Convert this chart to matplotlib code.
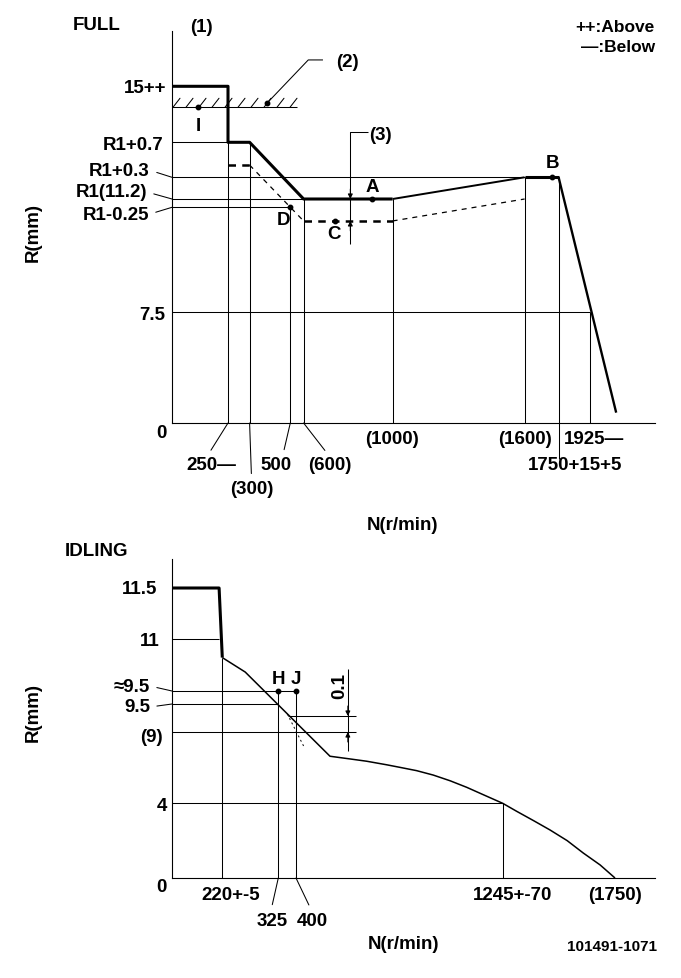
import matplotlib
matplotlib.use("Agg")
import matplotlib.pyplot as plt
import numpy as np

plt.rcParams['font.family'] = ['Liberation Sans Narrow', 'Liberation Sans', 'DejaVu Sans']
plt.rcParams['font.weight'] = 'bold'

# ---------------- FULL (top) data ----------------
full_n = [0, 250, 250, 300, 600, 1000]          # rack, thick part
full_r = [15, 15, 11.9, 11.9, 11.2, 11.2]
rise_n = [1000, 1600]
rise_r = [11.2, 11.5]
b_n = [1600, 1750]
b_r = [11.5, 11.5]
droop_n = [1750, 2035]
droop_r = [11.5, 0.7]
low_n = [250, 300, 600, 1000, 1600]            # lower limit (dashed)
low_r = [11.64, 11.64, 10.5, 10.5, 11.2]
hatch_r = 13.84
full_points = {'I': (117, 13.84), 'D': (500, 10.95), 'A': (907, 11.2),
               'C': (741, 10.5), 'B': (1721, 11.5)}

# ---------------- IDLING (bottom) data ----------------
idl_thick_n = [0, 206, 220]
idl_thick_r = [11.5, 11.5, 10.5]
idl_n = [220, 263, 539, 621, 689, 771, 825, 893, 961, 1030, 1098, 1166,
         1245, 1308, 1384, 1458, 1535, 1607, 1683, 1750]
idl_r = [10.5, 10.11, 7.3, 7.11, 6.95, 6.7, 6.52, 6.29, 5.98, 5.58, 5.12, 4.6,
         4.0, 3.57, 3.07, 2.57, 2.0, 1.34, 0.7, 0]
idl_low_n = [363, 433]
idl_low_r = [9.17, 7.95]
idl_points = {'H': (325, 9.6), 'J': (400, 9.6)}


def pw(vals, pos):
    vals = np.asarray(vals, float)
    pos = np.asarray(pos, float)
    return (lambda v: np.interp(v, vals, pos), lambda p: np.interp(p, pos, vals))


W, H = 681, 979
fig = plt.figure(figsize=(W / 100, H / 100), dpi=100)


def box(l, r, b, t):
    return [l / W, 1 - b / H, (r - l) / W, (b - t) / H]


THIN = 0.75
THICK = 2.2
FS = 13.5

ax1 = fig.add_axes(box(172, 655, 424, 32))
ax2 = fig.add_axes(box(172, 655, 879, 560))

fx1 = pw([-500, 0, 250, 300, 500, 600, 1000, 1600, 1750, 1925, 2200],
         [-110, 0, 56, 77.6, 118.3, 131.6, 220.6, 352.6, 386.6, 418.3, 483])
fy1 = pw([-5, 0, 7.5, 10.95, 11.2, 11.5, 11.9, 15, 18],
         [-74, 0, 111, 215.7, 224, 245.7, 280.7, 336.7, 392])
fx2 = pw([-500, 0, 220, 325, 400, 1245, 1750, 1930],
         [-115, 0, 50.3, 106.3, 124, 330.7, 443, 483])
fy2 = pw([-5, 0, 4, 9, 9.1, 9.5, 9.6, 11, 11.5, 12.5],
         [-92, 0, 74.7, 146, 162, 174, 187, 239, 290, 319])

for ax, fx, fy, xl, yl in [(ax1, fx1, fy1, 2200, 18), (ax2, fx2, fy2, 1930, 12.5)]:
    ax.set_xscale('function', functions=fx)
    ax.set_yscale('function', functions=fy)
    ax.set_xlim(0, xl)
    ax.set_ylim(0, yl)
    ax.set_xticks([])
    ax.set_yticks([])
    ax.minorticks_off()
    ax.patch.set_alpha(0)
    for s in ['top', 'right']:
        ax.spines[s].set_visible(False)
    for s in ['left', 'bottom']:
        ax.spines[s].set_linewidth(0.8)


def line(ax, xs, ys, lw=THIN, ls='-', **kw):
    ax.plot(xs, ys, color='k', lw=lw, ls=ls, clip_on=False,
            solid_capstyle='butt', **kw)


def lab(ax, s, x, y, dx, dy, ha='center', lead=None, size=FS, **kw):
    ap = None
    if lead is not None:
        ap = dict(arrowstyle='-', lw=THIN, color='k', relpos=lead,
                  shrinkA=3, shrinkB=0)
    ax.annotate(s, xy=(x, y), xytext=(dx, dy), textcoords='offset pixels',
                ha=ha, va='center', fontsize=size, fontweight='bold',
                arrowprops=ap, annotation_clip=False, **kw)


def arrow(ax, x, y, dy):
    ax.annotate('', xy=(x, y), xytext=(0, dy), textcoords='offset pixels',
                arrowprops=dict(arrowstyle='-|>', lw=THIN, color='k',
                                mutation_scale=7, shrinkA=0, shrinkB=0),
                annotation_clip=False)


# ================= FULL =================
# thin reference lines
line(ax1, [0, 550], [hatch_r, hatch_r])
line(ax1, [0, 250], [11.9, 11.9])
line(ax1, [0, 1600], [11.5, 11.5])
line(ax1, [0, 600], [11.2, 11.2])
line(ax1, [0, 500], [10.95, 10.95])
line(ax1, [0, 1925], [7.5, 7.5])
for n, top in [(250, 11.9), (300, 11.9), (500, 10.95), (600, 11.2),
               (1000, 11.2), (1600, 11.5), (1925, 7.5)]:
    line(ax1, [n, n], [0, top])
line(ax1, [1750, 1750], [-2.4, 11.5])

# hatch marks
hx = fx1[1](np.linspace(1, 118, 10))
for x in hx:
    ax1.annotate('', xy=(x, hatch_r), xytext=(7, 9), textcoords='offset pixels',
                 arrowprops=dict(arrowstyle='-', lw=THIN, color='k',
                                 shrinkA=0, shrinkB=0))

# characteristic
line(ax1, full_n, full_r, lw=THICK)
line(ax1, rise_n, rise_r, lw=1.4)
line(ax1, b_n, b_r, lw=THICK)
line(ax1, droop_n, droop_r, lw=1.7)
line(ax1, low_n[:2], low_r[:2], lw=1.8, ls=(0, (3, 2.5)))
line(ax1, low_n[1:3], low_r[1:3], lw=0.9, ls=(0, (4, 4)))
line(ax1, low_n[2:4], low_r[2:4], lw=1.8, ls=(0, (3, 2.5)))
line(ax1, low_n[3:5], low_r[3:5], lw=0.9, ls=(0, (4, 4)))

for k, (n, r) in full_points.items():
    ax1.plot(n, r, 'o', color='k', ms=3.2, clip_on=False)
ax1.plot(385, 14.06, 'o', color='k', ms=3.2)
lab(ax1, 'I', *full_points['I'], 0, -18)
lab(ax1, 'D', *full_points['D'], -7, -12)
lab(ax1, 'A', *full_points['A'], 0, 12)
lab(ax1, 'C', *full_points['C'], -1, -13)
lab(ax1, 'B', *full_points['B'], 0, 15)

# (2) leader
line(ax1, [385, 621, 687], [14.06, 16.43, 16.43])
lab(ax1, '(2)', 687, 16.43, 13, -2, ha='left')
# (3) marker
line(ax1, [889, 810, 810], [12.47, 12.47, 9.74])
lab(ax1, '(3)', 889, 12.47, 1, -2, ha='left')
arrow(ax1, 810, 11.2, 10)
arrow(ax1, 810, 10.5, -10)

# y labels
lab(ax1, '15++', 0, 15, -6, -1, ha='right')
lab(ax1, 'R1+0.7', 0, 11.9, -8, -2, ha='right')
lab(ax1, 'R1+0.3', 0, 11.5, -22, 7, ha='right', lead=(1, 0.5))
lab(ax1, 'R1(11.2)', 0, 11.2, -25, 7, ha='right', lead=(1, 0.5))
lab(ax1, 'R1-0.25', 0, 10.95, -23, -7, ha='right', lead=(1, 0.5))
lab(ax1, '7.5', 0, 7.5, -7, -2, ha='right')
lab(ax1, '0', 0, 0, -11, -10)

# x labels
lab(ax1, '250\u2014', 250, 0, -17, -42, lead=(0.42, 1))
lab(ax1, '(300)', 300, 0, 2, -66, lead=(0.5, 1))
lab(ax1, '500', 500, 0, -14, -42, lead=(0.7, 1))
lab(ax1, '(600)', 600, 0, 26, -42, lead=(0.5, 1))
lab(ax1, '(1000)', 1000, 0, -1, -16)
lab(ax1, '(1600)', 1600, 0, 0, -16)
lab(ax1, '1925\u2014', 1925, 0, 4, -16)
lab(ax1, '1750+15+5', 1750, 0, 16, -42)

# ================= IDLING =================
line(ax2, [0, 206], [11, 11])
line(ax2, [0, 400], [9.6, 9.6])
line(ax2, [0, 325], [9.5, 9.5])
line(ax2, [0, 645], [9, 9])
line(ax2, [366, 645], [9.1, 9.1])
line(ax2, [0, 1245], [4, 4])
for n, top in [(220, 10.5), (325, 9.6), (400, 9.6), (1245, 4)]:
    line(ax2, [n, n], [0, top])

line(ax2, idl_thick_n, idl_thick_r, lw=THICK)
line(ax2, idl_n, idl_r, lw=1.1)
line(ax2, idl_low_n, idl_low_r, lw=0.7, ls=(0, (2, 3)))

for k, (n, r) in idl_points.items():
    ax2.plot(n, r, 'o', color='k', ms=3.2, clip_on=False)
    lab(ax2, k, n, r, 0, 12)

line(ax2, [612, 612], [10.19, 7.67])
arrow(ax2, 612, 9.1, 10)
arrow(ax2, 612, 9, -10)
lab(ax2, '0.1', 612, 9.1, -8, 31, rotation=90)

lab(ax2, '11.5', 0, 11.5, -15, -1, ha='right')
lab(ax2, '11', 0, 11, -12, -2, ha='right')
lab(ax2, '\u22489.5', 0, 9.6, -22, 5, ha='right', lead=(1, 0.5))
lab(ax2, '9.5', 0, 9.5, -22, -3, ha='right', lead=(1, 0.5))
lab(ax2, '(9)', 0, 9, -9, -4, ha='right')
lab(ax2, '4', 0, 4, -10, -2)
lab(ax2, '0', 0, 0, -11, -9)

lab(ax2, '220+-5', 220, 0, 8, -16)
lab(ax2, '325', 325, 0, -6, -42, lead=(0.45, 1))
lab(ax2, '400', 400, 0, 16, -42, lead=(0.5, 1))
lab(ax2, '1245+-70', 1245, 0, 10, -16)
lab(ax2, '(1750)', 1750, 0, 0, -16)


# ================= figure texts =================
def ftext(x, y, s, size=FS, **kw):
    fig.text(x / W, 1 - y / H, s, fontsize=size, fontweight='bold',
             va='center', **kw)


ftext(97, 25, 'FULL', ha='center')
ftext(201, 27, '(1)', ha='center')
ftext(655, 28, '++:Above', ha='right', size=12.5)
ftext(655, 48, '\u2014:Below', ha='right', size=12.5)
ftext(33, 232, 'R(mm)', ha='center', rotation=90)
ftext(402, 525, 'N(r/min)', ha='center')
ftext(97, 552, 'IDLING', ha='center')
ftext(33, 712, 'R(mm)', ha='center', rotation=90)
ftext(403, 945, 'N(r/min)', ha='center')
ftext(612, 947, '101491-1071', ha='center', size=11)

fig.savefig('out.png', dpi=100)
